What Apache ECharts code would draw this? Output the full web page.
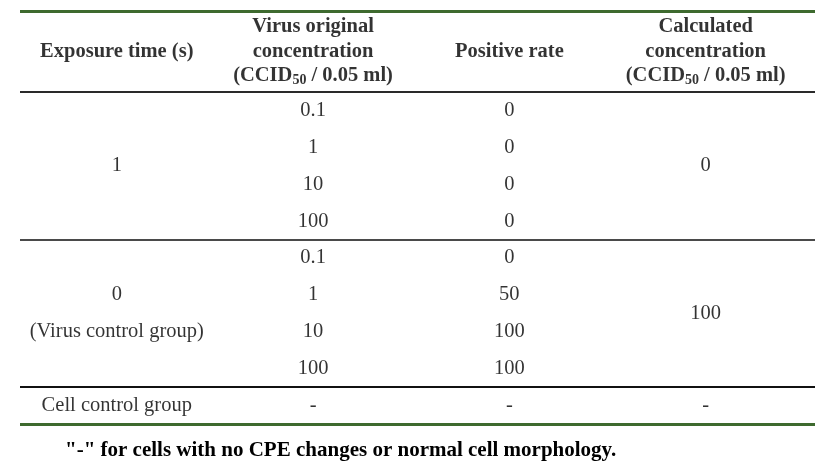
<!DOCTYPE html>
<html><head><meta charset="utf-8">
<script src="https://cdn.jsdelivr.net/npm/echarts@6/dist/echarts.min.js"></script>
<style>html,body{margin:0;padding:0;background:#fff}#c{width:837px;height:463px}</style>
</head><body><div id="c"></div>
<script>
// ---- data ----
var headers = ['Exposure time (s)', 'Virus original\nconcentration\n{b|(CCID}{s|50}{b| / 0.05 ml)}', 'Positive rate', 'Calculated\nconcentration\n{b|(CCID}{s|50}{b| / 0.05 ml)}'];
var concentrations = ['0.1', '1', '10', '100'];
var groupExposure = ['1', '0'];
var groupNote = ['', '(Virus control group)'];
var positiveRate1 = ['0', '0', '0', '0'];
var positiveRate2 = ['0', '50', '100', '100'];
var calculated = ['0', '100'];
var cellControl = ['Cell control group', '-', '-', '-'];
var footnote = '"-" for cells with no CPE changes or normal cell morphology.';

// ---- build cells: [column, row, text] ----
var nRows = concentrations.length * 2 + 1;
var headerRow = -1.6;
var body = [];
var rates = [positiveRate1, positiveRate2];
for (var g = 0; g < 2; g++) {
  var base = g * concentrations.length;
  for (var i = 0; i < concentrations.length; i++) {
    body.push([1, base + i, concentrations[i]]);
    body.push([2, base + i, rates[g][i]]);
  }
  body.push([3, base + (concentrations.length - 1) / 2, calculated[g]]);
}
body.push([0, (concentrations.length - 1) / 2, groupExposure[0]]);
body.push([0, concentrations.length + 1, groupExposure[1]]);
body.push([0, concentrations.length + 2, groupNote[1]]);
cellControl.forEach(function (t, c) { body.push([c, nRows - 1, t]); });
var head = headers.map(function (h, c) { return [c, headerRow, h]; });

var FONT = '"Liberation Serif", "Times New Roman", serif';
var green = '#3e6a2f', dark = '#000';

var chart = echarts.init(document.getElementById('c'));
chart.setOption({
  animation: false,
  grid: { left: 20, right: 22, top: 11, bottom: 39 },
  xAxis: { type: 'value', min: -0.493, max: 3.557, show: false },
  yAxis: { type: 'value', min: -2.7, max: nRows - 0.5, inverse: true, show: false },
  title: {
    text: footnote, left: 60, top: 435,
    textStyle: { fontFamily: FONT, fontSize: 21, fontWeight: 'bold', color: dark }
  },
  series: [
    {
      type: 'scatter', data: body, symbolSize: 1, itemStyle: { color: 'rgba(0,0,0,0)' },
      label: {
        show: true, position: 'inside', formatter: function (p) { return p.data[2]; },
        fontFamily: FONT, fontSize: 20.5, color: dark
      },
      markLine: {
        silent: true, symbol: 'none', label: { show: false },
        data: [
          { yAxis: -2.7, lineStyle: { color: green, width: 3, type: 'solid' } },
          { yAxis: -0.5, lineStyle: { color: '#2a2a2a', width: 2, type: 'solid' } },
          { yAxis: concentrations.length - 0.5, lineStyle: { color: '#4a4a4a', width: 2, type: 'solid' } },
          { yAxis: 2 * concentrations.length - 0.5, lineStyle: { color: '#111', width: 2, type: 'solid' } },
          { yAxis: nRows - 0.5, lineStyle: { color: green, width: 3, type: 'solid' } }
        ]
      }
    },
    {
      type: 'scatter', data: head, symbolSize: 1, itemStyle: { color: 'rgba(0,0,0,0)' },
      label: {
        show: true, position: 'inside', formatter: function (p) { return p.data[2]; },
        fontFamily: FONT, fontSize: 20.5, fontWeight: 'bold', color: dark, lineHeight: 24.5, align: 'center',
        rich: {
          b: { fontFamily: FONT, fontSize: 20.5, fontWeight: 'bold', color: dark, lineHeight: 24.5 },
          s: { fontFamily: FONT, fontSize: 14, fontWeight: 'bold', color: dark, lineHeight: 24.5, padding: [8, 0, 0, 0] }
        }
      }
    }
  ]
});
</script></body></html>
